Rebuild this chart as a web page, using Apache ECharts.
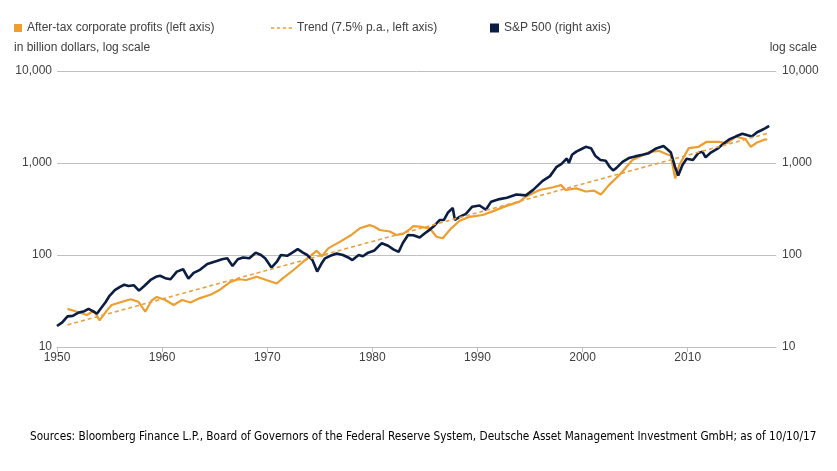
<!DOCTYPE html>
<html>
<head>
<meta charset="utf-8">
<script src="https://cdn.jsdelivr.net/npm/echarts@6/dist/echarts.min.js"></script>
<style>
html,body{margin:0;padding:0;background:#fff;}
#chart{width:837px;height:471px;}
</style>
</head>
<body>
<div id="chart"></div>
<script>
// Year ticks on the x axis
var xTicks = [1950, 1960, 1970, 1980, 1990, 2000, 2010];
// Log-scale tick values (both axes)
var yTicks = [10, 100, 1000, 10000];

// After-tax corporate profits, billion USD [year, value] (left axis)
var profits = [
  [1951.0,26],[1951.9,24.2],[1952.85,22.3],[1953.5,24.8],[1954.05,19.5],[1954.75,25],[1955.2,28.6],
  [1956.2,31],[1957.0,33],[1957.75,31],[1958.4,24.2],[1959.0,32],[1959.5,35],[1960.3,32.4],
  [1961.1,28.6],[1961.9,32.4],[1962.7,30.5],[1963.6,34],[1964.6,37],[1965.5,42],[1966.5,51],
  [1967.25,54.5],[1968.0,53.5],[1969.0,58],[1969.9,53.5],[1970.9,49],[1971.5,56],[1972.5,68.7],
  [1973.4,84],[1974.4,104],[1974.7,111],[1975.2,97],[1975.8,118],[1976.9,139],[1978.0,165],
  [1978.8,195],[1979.75,211],[1980.2,203],[1980.7,187],[1981.65,180],[1982.3,165],[1982.9,170],
  [1983.55,190],[1983.9,206],[1984.5,203],[1985.45,195],[1986.1,158],[1986.7,152],[1987.5,195],
  [1988.3,236],[1989.25,260],[1990.5,272],[1991.5,300],[1992.7,340],[1994.0,380],[1994.6,430],
  [1995.9,509],[1997.2,545],[1997.95,575],[1998.4,509],[1999.4,530],[2000.3,490],[2001.1,500],
  [2001.75,455],[2002.5,575],[2003.5,740],[2004.75,1079],[2005.4,1170],[2006.35,1320],[2007.3,1350],
  [2007.9,1260],[2008.4,1200],[2008.8,680],[2009.2,950],[2010.1,1450],[2011.05,1500],[2011.8,1700],
  [2013.0,1700],[2013.75,1640],[2014.6,1930],[2015.5,1815],[2016.0,1500],[2016.6,1670],[2017.4,1815],
  [2017.55,1780]
];

// Trend line (7.5% p.a.) end points [year, value]
var trend = [[1951.0,17.4],[2017.6,2100]];

// S&P 500 index level [year, value] (right axis)
var sp500 = [
  [1950.0,16.9],[1950.5,18.5],[1951.0,21.5],[1951.5,21.8],[1952.0,23.5],[1952.6,24.5],[1953.0,26],
  [1953.4,24.5],[1953.8,23],[1954.2,26.5],[1954.6,30.5],[1955.0,36],[1955.5,41.5],[1956.0,45],
  [1956.4,47.5],[1956.8,46],[1957.3,47],[1957.8,41],[1958.3,46],[1958.9,53.5],[1959.5,58.5],
  [1959.8,59.5],[1960.3,56],[1960.8,54.5],[1961.4,66],[1962.0,70],[1962.5,55.5],[1963.0,64],
  [1963.6,69],[1964.3,80],[1965.2,86],[1965.7,90],[1966.2,92],[1966.7,76],[1967.2,90],[1967.7,94],
  [1968.3,92],[1968.9,106],[1969.4,100],[1969.8,92],[1970.4,73],[1970.9,84],[1971.3,100],[1971.9,98],
  [1972.5,108],[1972.9,116],[1973.4,106],[1973.8,100],[1974.3,88],[1974.75,66],[1975.2,82],[1975.5,92],
  [1976.0,98],[1976.6,104],[1977.2,100],[1977.7,94],[1978.1,88],[1978.7,100],[1979.1,97],[1979.6,106],
  [1980.2,112],[1980.6,125],[1980.9,134],[1981.5,126],[1982.0,115],[1982.5,108],[1982.9,135],[1983.4,165],
  [1983.9,164],[1984.5,155],[1985.0,172],[1985.5,190],[1985.9,208],[1986.4,240],[1986.8,240],[1987.2,290],
  [1987.65,325],[1987.85,240],[1988.3,260],[1988.9,280],[1989.5,335],[1990.2,345],[1990.8,310],[1991.3,380],
  [1992.1,405],[1992.8,420],[1993.7,455],[1994.6,445],[1995.3,510],[1996.2,640],[1996.9,720],[1997.5,900],
  [1998.0,980],[1998.5,1120],[1998.7,1000],[1999.0,1230],[1999.4,1330],[1999.9,1420],[2000.3,1500],
  [2000.8,1450],[2001.2,1200],[2001.7,1080],[2002.2,1060],[2002.6,900],[2002.9,830],[2003.2,880],
  [2003.8,1030],[2004.4,1130],[2005.0,1180],[2005.7,1230],[2006.3,1280],[2007.0,1440],[2007.7,1530],
  [2008.0,1430],[2008.4,1300],[2008.8,900],[2009.1,730],[2009.5,950],[2009.9,1110],[2010.5,1080],
  [2011.0,1280],[2011.4,1330],[2011.7,1150],[2012.2,1300],[2012.8,1420],[2013.4,1620],[2014.0,1820],
  [2014.6,1950],[2015.2,2080],[2015.7,2000],[2016.1,1940],[2016.6,2160],[2017.0,2270],[2017.4,2390],
  [2017.75,2530]
];

var ORANGE = '#EE9E2E';
var NAVY = '#0B1D42';
var TEXT = '#404040';
var GRID = '#BFBFBF';
var FONT = '"Liberation Sans", Arial, sans-serif';

function fmt(v) { return Number(v).toLocaleString('en-US'); }

var chart = echarts.init(document.getElementById('chart'), null, {renderer: 'canvas'});
var legendText = {color: TEXT, fontSize: 12, fontFamily: FONT};
var dashIcon = 'path://M0,0h4v2h-4z M7,0h4v2h-4z M14,0h4v2h-4z M21,0h4v2h-4z';
chart.setOption({
  backgroundColor: '#fff',
  animation: false,
  textStyle: {fontFamily: FONT},
  grid: {left: 57, right: 61, top: 71, bottom: 124, containLabel: false},
  legend: [
    {left: 14, top: 22, padding: 0, itemWidth: 8, itemHeight: 8, icon: 'rect', data: ['After-tax corporate profits (left axis)'], textStyle: legendText, selectedMode: false},
    {left: 271, top: 22, padding: 0, itemWidth: 21, itemHeight: 2, icon: dashIcon, data: ['Trend (7.5% p.a., left axis)'], textStyle: legendText, selectedMode: false},
    {left: 490, top: 22, padding: 0, itemWidth: 9, itemHeight: 9, icon: 'rect', data: ['S&P 500 (right axis)'], textStyle: legendText, selectedMode: false}
  ],
  xAxis: {
    type: 'value', min: 1950, max: 2018.4,
    axisLine: {show: true, lineStyle: {color: GRID, width: 1}},
    axisTick: {show: true, length: 5, lineStyle: {color: GRID}, customValues: xTicks},
    axisLabel: {color: TEXT, fontSize: 12, margin: 5, customValues: xTicks, formatter: function (v) { return String(v); }},
    splitLine: {show: false}
  },
  yAxis: [
    {
      type: 'log', logBase: 10, min: 10, max: 10000, position: 'left',
      axisLine: {show: false}, axisTick: {show: false},
      axisLabel: {color: TEXT, fontSize: 12, margin: 5, formatter: fmt},
      splitLine: {show: true, lineStyle: {color: GRID, width: 1}}
    },
    {
      type: 'log', logBase: 10, min: 10, max: 10000, position: 'right',
      axisLine: {show: false}, axisTick: {show: false},
      axisLabel: {color: TEXT, fontSize: 12, margin: 6, formatter: fmt},
      splitLine: {show: false}
    }
  ],
  series: [
    {name: 'After-tax corporate profits (left axis)', type: 'line', yAxisIndex: 0, data: profits,
     showSymbol: false, symbol: 'none', itemStyle: {color: ORANGE}, lineStyle: {color: ORANGE, width: 2.2}, z: 2},
    {name: 'S&P 500 (right axis)', type: 'line', yAxisIndex: 1, data: sp500,
     showSymbol: false, symbol: 'none', itemStyle: {color: NAVY}, lineStyle: {color: NAVY, width: 2.6}, z: 3},
    {name: 'Trend (7.5% p.a., left axis)', type: 'line', yAxisIndex: 0, data: trend,
     showSymbol: false, symbol: 'none', itemStyle: {color: '#E8A040'}, lineStyle: {color: '#E8A040', width: 1.6, type: [4, 3]}, z: 4}
  ],
  graphic: [
    {type: 'text', left: 14, top: 42, style: {text: 'in billion dollars, log scale', fill: TEXT, font: '12px ' + FONT}},
    {type: 'text', right: 20, top: 42, style: {text: 'log scale', fill: TEXT, font: '12px ' + FONT}},
    {type: 'text', x: 30, y: 430, scaleX: 0.9, originX: 0, style: {text: 'Sources: Bloomberg Finance L.P., Board of Governors of the Federal Reserve System, Deutsche Asset Management Investment GmbH; as of 10/10/17', fill: '#000', font: '13px "DejaVu Sans Condensed", sans-serif'}}
  ]
});
</script>
</body>
</html>
